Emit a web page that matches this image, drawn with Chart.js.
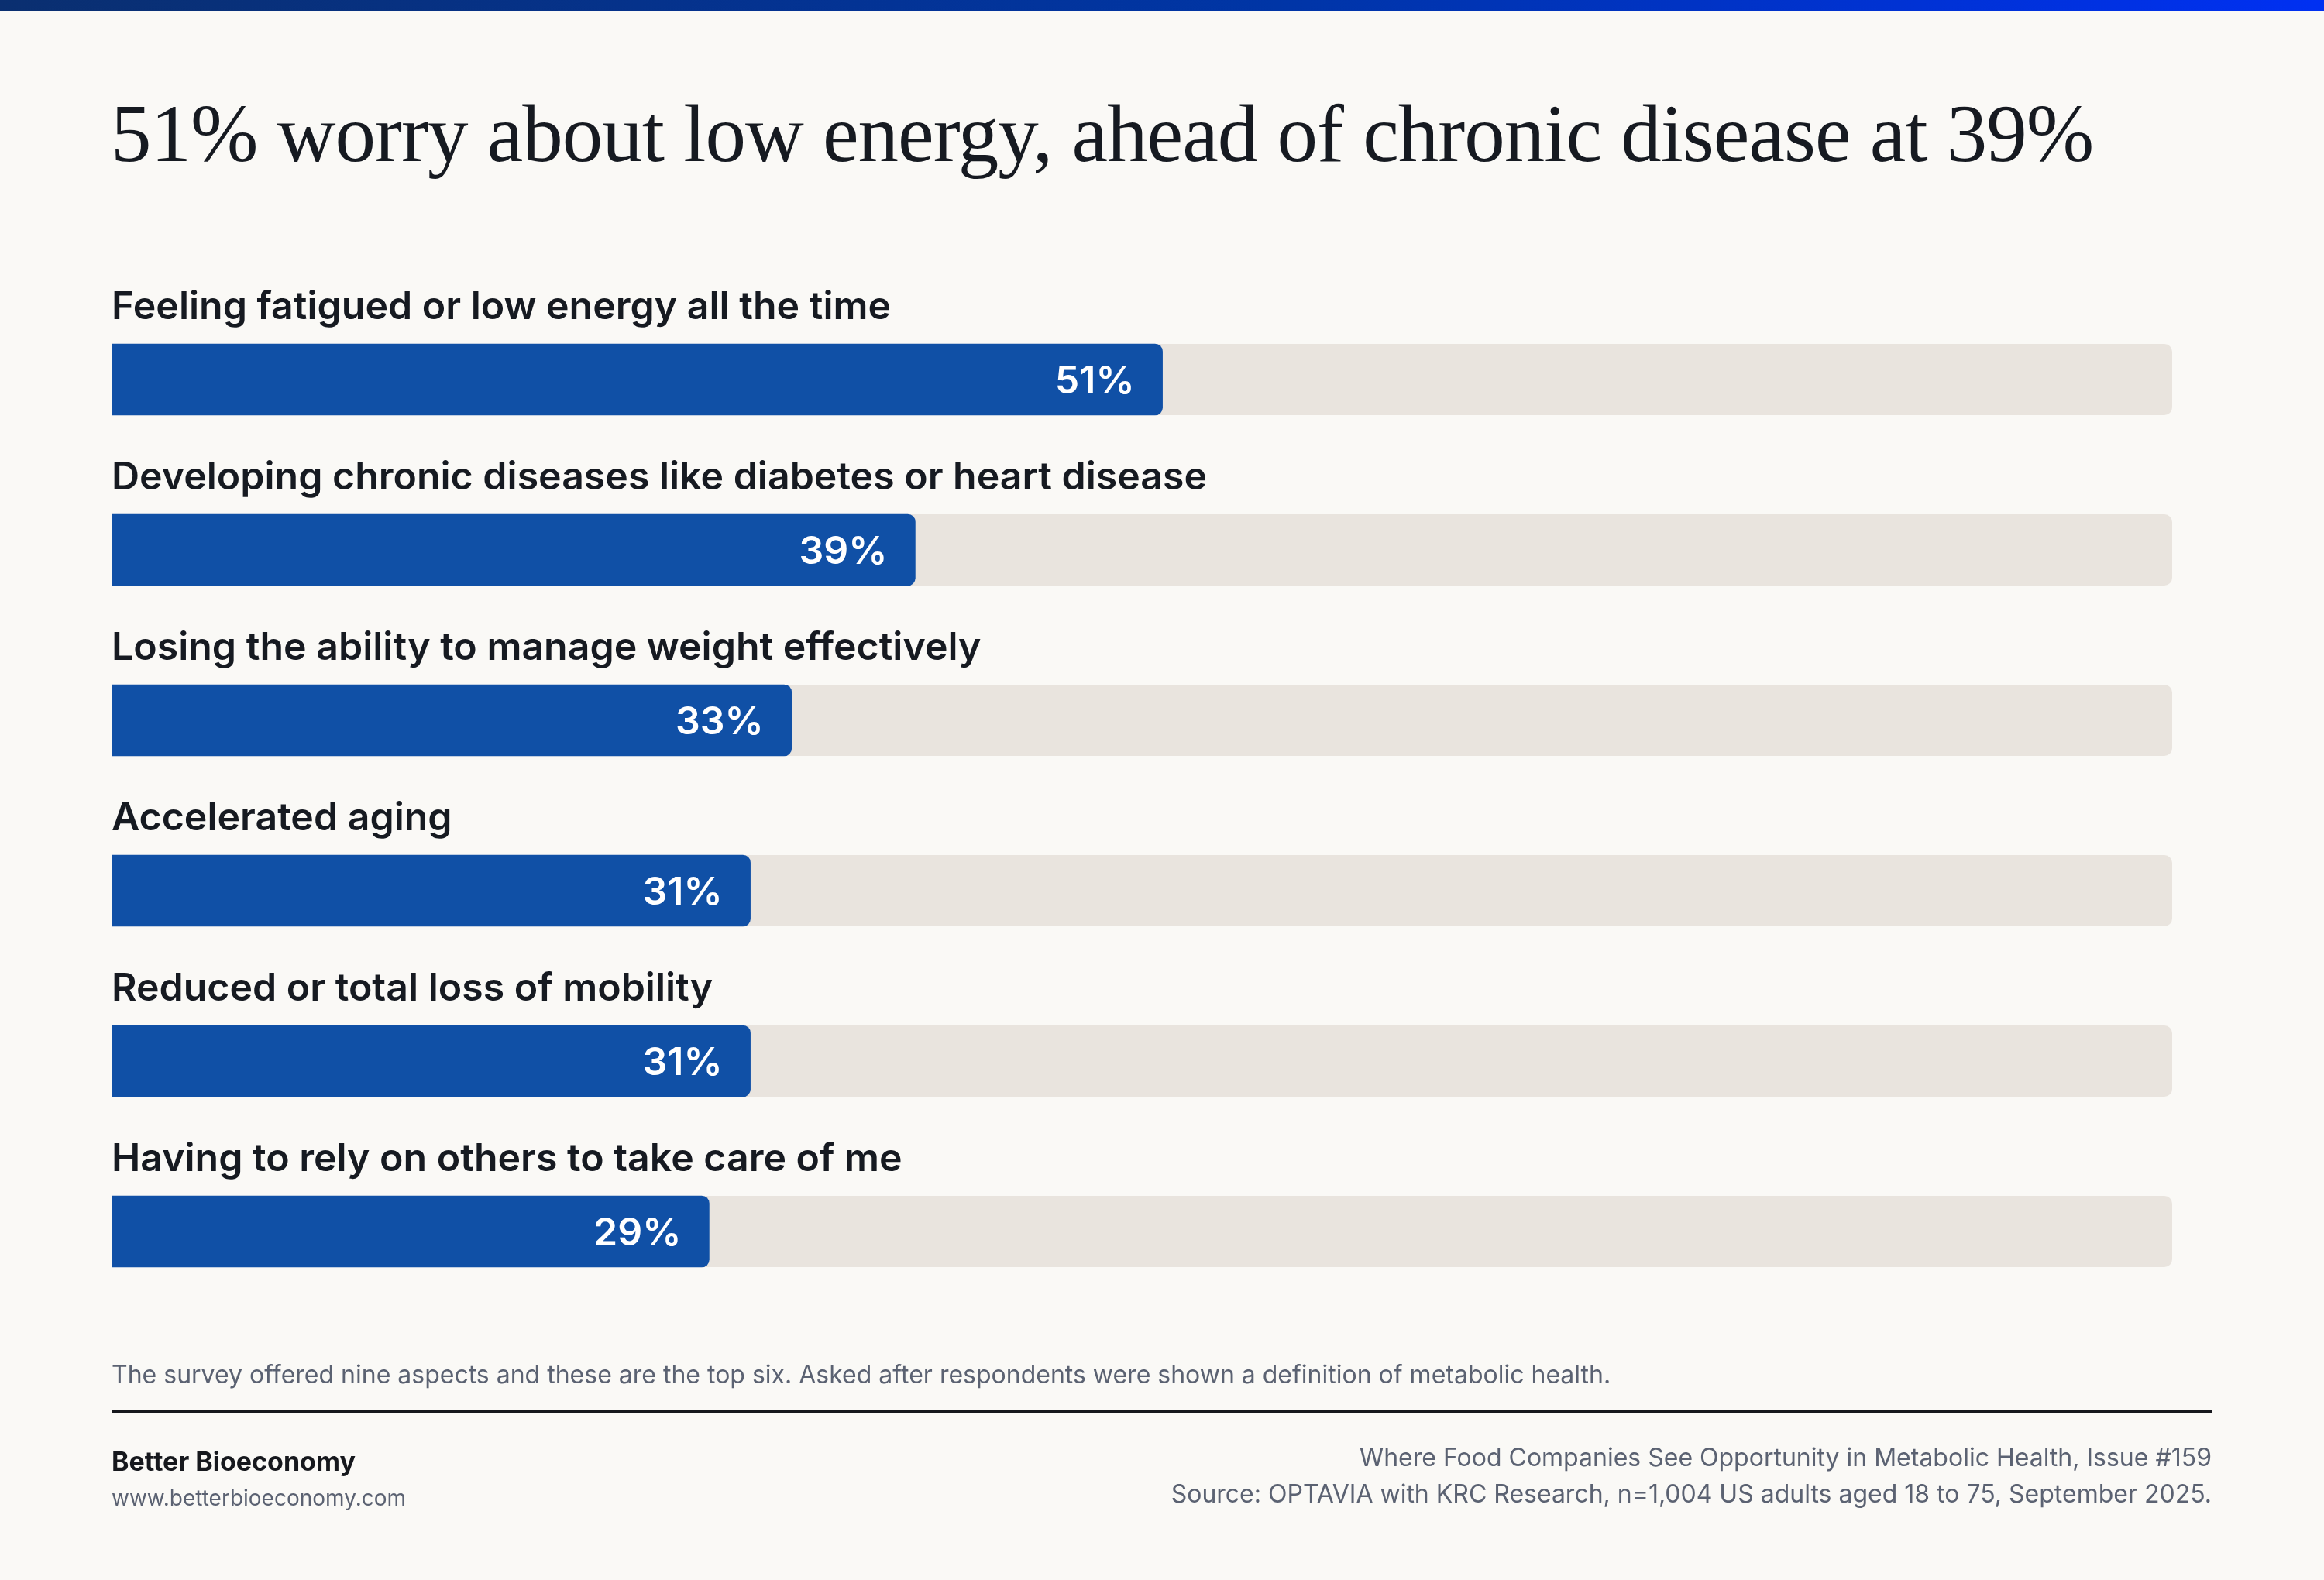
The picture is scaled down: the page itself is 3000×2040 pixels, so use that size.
<!DOCTYPE html>
<html>
<head>
<meta charset="utf-8">
<script src="https://cdn.jsdelivr.net/npm/chart.js@4"></script>
<style>
  html, body { margin:0; padding:0; background:#faf9f6; }
  body { width:3000px; height:2040px; position:relative; overflow:hidden; font-family:Inter, "Noto Sans", sans-serif; }
  #stripe { position:absolute; left:0; top:0; width:3000px; height:14px; background:linear-gradient(90deg,#0a2f70 0%,#0035a6 55%,#0030f2 100%); }
  #title { position:absolute; left:143px; top:120px; font-family:"Liberation Serif", serif; font-size:105px; line-height:1; color:#161a21; white-space:nowrap; letter-spacing:-1px; }
  #chartWrap { position:absolute; left:0; top:0; width:3000px; height:2040px; }
  #note { position:absolute; left:144px; top:1755px; font-size:32px; color:#5b6272; white-space:nowrap; }
  #rule { position:absolute; left:144px; top:1821px; width:2711px; height:3px; background:#16181d; }
  #brand { position:absolute; left:144px; top:1866px; font-size:34px; font-weight:700; color:#16181d; white-space:nowrap; }
  #url { position:absolute; left:144px; top:1917px; font-size:28px; color:#5b6272; white-space:nowrap; }
  #issue { position:absolute; right:145px; top:1862px; font-size:32px; color:#5b6272; white-space:nowrap; text-align:right; }
  #source { position:absolute; right:145px; top:1909px; font-size:32px; color:#5b6272; white-space:nowrap; text-align:right; }
</style>
</head>
<body>
<div id="stripe"></div>
<div id="title">51% worry about low energy, ahead of chronic disease at 39%</div>
<div id="chartWrap"><canvas id="c" width="3000" height="2040"></canvas></div>
<div id="note">The survey offered nine aspects and these are the top six. Asked after respondents were shown a definition of metabolic health.</div>
<div id="rule"></div>
<div id="brand">Better Bioeconomy</div>
<div id="url">www.betterbioeconomy.com</div>
<div id="issue">Where Food Companies See Opportunity in Metabolic Health, Issue #159</div>
<div id="source">Source: OPTAVIA with KRC Research, n=1,004 US adults aged 18 to 75, September 2025.</div>
<script>
const categories = [
  "Feeling fatigued or low energy all the time",
  "Developing chronic diseases like diabetes or heart disease",
  "Losing the ability to manage weight effectively",
  "Accelerated aging",
  "Reduced or total loss of mobility",
  "Having to rely on others to take care of me"
];
const shares = [51, 39, 33, 31, 31, 29];
const axisMax = 100;

const trackPlugin = {
  id: 'track',
  beforeDatasetsDraw(chart) {
    const ctx = chart.ctx;
    const xs = chart.scales.x;
    const meta = chart.getDatasetMeta(0);
    ctx.save();
    ctx.fillStyle = '#e9e4de';
    meta.data.forEach(el => {
      const h = el.height;
      const x0 = xs.getPixelForValue(0), x1 = xs.getPixelForValue(axisMax);
      ctx.beginPath();
      ctx.roundRect(x0, el.y - h/2, x1 - x0, h, [0, 10, 10, 0]);
      ctx.fill();
    });
    ctx.restore();
  },
  afterDatasetsDraw(chart) {
    const ctx = chart.ctx;
    const meta = chart.getDatasetMeta(0);
    ctx.save();
    meta.data.forEach((el, i) => {
      const h = el.height;
      ctx.font = '600 50px Inter';
      ctx.fillStyle = '#161a21';
      ctx.textAlign = 'left';
      ctx.textBaseline = 'alphabetic';
      ctx.fillText(categories[i], el.base, el.y - h/2 - 32);
      ctx.font = '600 50px Inter';
      ctx.fillStyle = '#ffffff';
      ctx.textAlign = 'right';
      ctx.fillText(shares[i] + '%', el.x - 36, el.y + 18);
    });
    ctx.restore();
  }
};

new Chart(document.getElementById('c'), {
  type: 'bar',
  data: {
    labels: categories,
    datasets: [{
      data: shares,
      backgroundColor: '#1050a6',
      borderRadius: 10,
      borderSkipped: 'start',
      barThickness: 92
    }]
  },
  options: {
    indexAxis: 'y',
    responsive: false,
    animation: false,
    devicePixelRatio: 1,
    layout: { padding: { left: 144, right: 196, top: 380, bottom: 340 } },
    scales: {
      x: { display: false, min: 0, max: axisMax },
      y: { display: false }
    },
    plugins: { legend: { display: false }, tooltip: { enabled: false } }
  },
  plugins: [trackPlugin]
});
</script>
</body>
</html>
